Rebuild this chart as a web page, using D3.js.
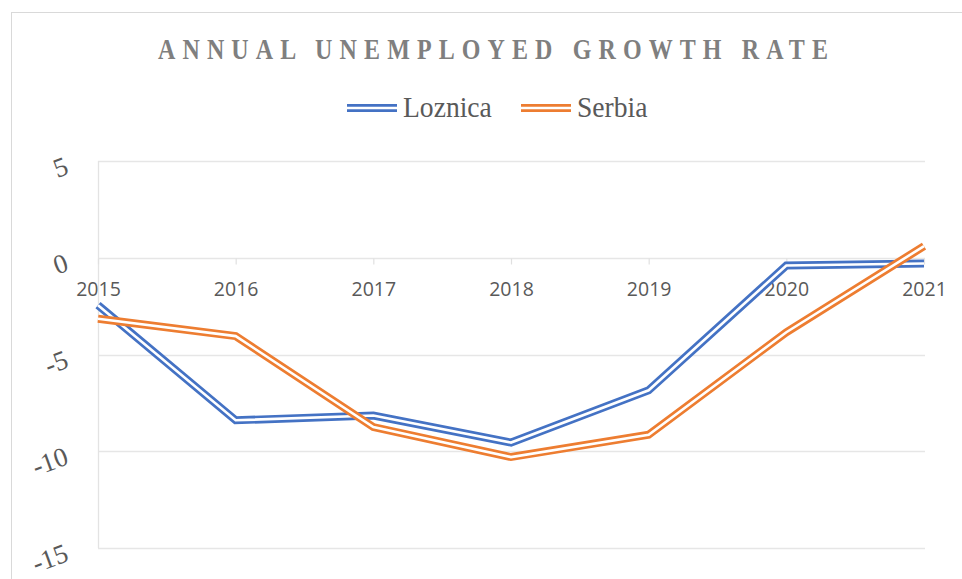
<!DOCTYPE html>
<html>
<head>
<meta charset="utf-8">
<script src="https://cdn.jsdelivr.net/npm/d3@7"></script>
<style>
  html, body { margin: 0; padding: 0; background: #fff; }
  svg { display: block; }
</style>
</head>
<body>
<svg id="chart" width="962" height="579"></svg>
<script>
// Annual unemployed growth rate (%), Loznica vs Serbia
const years = ["2015", "2016", "2017", "2018", "2019", "2020", "2021"];
const loznica = [-2.45, -8.4, -8.15, -9.55, -6.85, -0.4, -0.3];
const serbia = [-3.15, -4.05, -8.75, -10.3, -9.15, -3.85, 0.6];
const yTicks = [5, 0, -5, -10, -15];
const seriesNames = ["Loznica", "Serbia"];
const seriesColors = ["#4472C4", "#ED7D31"];

(function () {
  const svg = d3.select("#chart");
  const W = 962, H = 579;
  const serif = "'Liberation Serif', 'Times New Roman', serif";

  // chart frame
  svg.append("line").attr("x1", 11.5).attr("x2", 11.5).attr("y1", 12).attr("y2", H)
    .attr("stroke", "#d9d9d9").attr("stroke-width", 1);
  svg.append("line").attr("x1", 11).attr("x2", W).attr("y1", 12.5).attr("y2", 12.5)
    .attr("stroke", "#d9d9d9").attr("stroke-width", 1);

  const plotL = 98, plotR = 924, plotT = 161, plotB = 548;
  const x = d3.scalePoint().domain(years).range([plotL, plotR]);
  const y = d3.scaleLinear().domain([-15, 5]).range([plotB, plotT]);

  // horizontal gridlines
  svg.append("g").selectAll("line").data(yTicks).join("line")
    .attr("x1", plotL).attr("x2", plotR + 1)
    .attr("y1", d => Math.round(y(d)) + 0.5).attr("y2", d => Math.round(y(d)) + 0.5)
    .attr("stroke", "#e6e6e6").attr("stroke-width", 1.3);

  // vertical axis line
  svg.append("line").attr("x1", plotL + 0.5).attr("x2", plotL + 0.5)
    .attr("y1", y(5)).attr("y2", y(-15))
    .attr("stroke", "#e3e3e3").attr("stroke-width", 1.3);

  // category axis sitting on zero
  const xAxis = svg.append("g")
    .attr("transform", `translate(0,${Math.round(y(0)) + 0.5})`)
    .call(d3.axisBottom(x).tickSize(6).tickSizeOuter(0).tickPadding(18));
  xAxis.select(".domain").remove();
  xAxis.selectAll(".tick line").attr("stroke", "#e0e0e0").attr("stroke-width", 1.2);
  xAxis.selectAll(".tick text")
    .attr("fill", "#595959")
    .style("font-family", "'Open Sans', 'Liberation Sans', sans-serif")
    .style("font-size", "19.5px");

  // value axis labels (slanted serif)
  const yAxis = svg.append("g")
    .attr("transform", `translate(${plotL},0)`)
    .call(d3.axisLeft(y).tickValues(yTicks).tickSize(0).tickPadding(0).tickFormat(d => String(d)));
  yAxis.select(".domain").remove();
  yAxis.selectAll(".tick text")
    .attr("x", null).attr("dy", null)
    .attr("transform", "translate(-28,12) rotate(-20)")
    .attr("text-anchor", "end")
    .attr("fill", "#595959")
    .style("font-family", serif)
    .style("font-size", "27px");

  // double-stroke series lines
  const line = d3.line().x((d, i) => x(years[i])).y(d => y(d));
  [loznica, serbia].forEach((vals, k) => {
    const g = svg.append("g");
    g.append("path").attr("d", line(vals)).attr("fill", "none")
      .attr("stroke", seriesColors[k]).attr("stroke-width", 8);
    g.append("path").attr("d", line(vals)).attr("fill", "none")
      .attr("stroke", "#fff").attr("stroke-width", 2.6);
  });

  // title (condensed, letter-spaced)
  const titleScale = 0.8;
  svg.append("g")
    .attr("transform", `translate(158,59) scale(${titleScale},1)`)
    .append("text")
    .attr("x", 0).attr("y", 0)
    .attr("textLength", 670 / titleScale).attr("lengthAdjust", "spacing")
    .attr("fill", "#7f7f7f")
    .style("font-family", serif)
    .style("font-weight", "bold")
    .style("font-size", "30px")
    .text("ANNUAL UNEMPLOYED GROWTH RATE");

  // legend
  const legendItems = [
    { name: seriesNames[0], color: seriesColors[0], x0: 347 },
    { name: seriesNames[1], color: seriesColors[1], x0: 521 }
  ];
  const lg = svg.append("g");
  legendItems.forEach(it => {
    lg.append("line").attr("x1", it.x0).attr("x2", it.x0 + 50).attr("y1", 108).attr("y2", 108)
      .attr("stroke", it.color).attr("stroke-width", 8);
    lg.append("line").attr("x1", it.x0).attr("x2", it.x0 + 50).attr("y1", 108).attr("y2", 108)
      .attr("stroke", "#fff").attr("stroke-width", 2.6);
    lg.append("g")
      .attr("transform", `translate(${it.x0 + 56},117) scale(0.92,1)`)
      .append("text")
      .attr("fill", "#595959")
      .style("font-family", serif)
      .style("font-size", "30px")
      .text(it.name);
  });
})();
</script>
</body>
</html>
